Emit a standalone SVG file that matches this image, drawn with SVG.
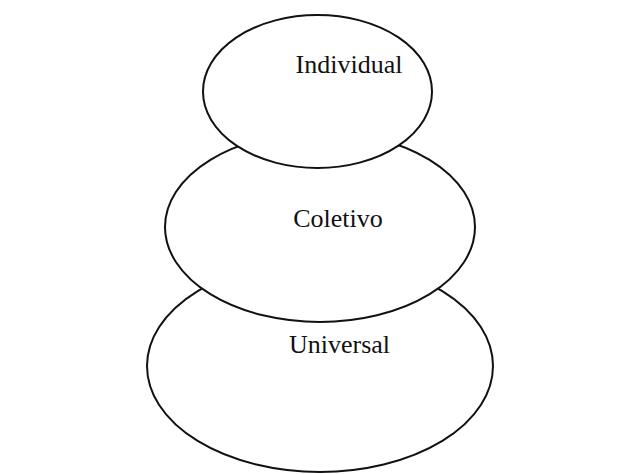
<svg xmlns="http://www.w3.org/2000/svg" width="640" height="474" viewBox="0 0 640 474">
<style>
.sh{fill:#ffffff;stroke:#111111;stroke-width:2}
.lb{font-family:"Liberation Serif","Times New Roman",serif;font-size:26px;fill:#111111;text-anchor:middle}
</style>
<rect width="640" height="474" fill="#ffffff"/>
<g id="connectors"></g>
<g id="universal">
<ellipse class="sh" cx="320" cy="366" rx="173" ry="106"/>
<text class="lb" x="339.5" y="353">Universal</text>
</g>
<g id="coletivo">
<ellipse class="sh" cx="320" cy="227" rx="155" ry="95"/>
<text class="lb" x="338" y="227">Coletivo</text>
</g>
<g id="individual">
<ellipse class="sh" cx="317.5" cy="91.5" rx="114.5" ry="76.5"/>
<text class="lb" x="349" y="73">Individual</text>
</g>
</svg>
